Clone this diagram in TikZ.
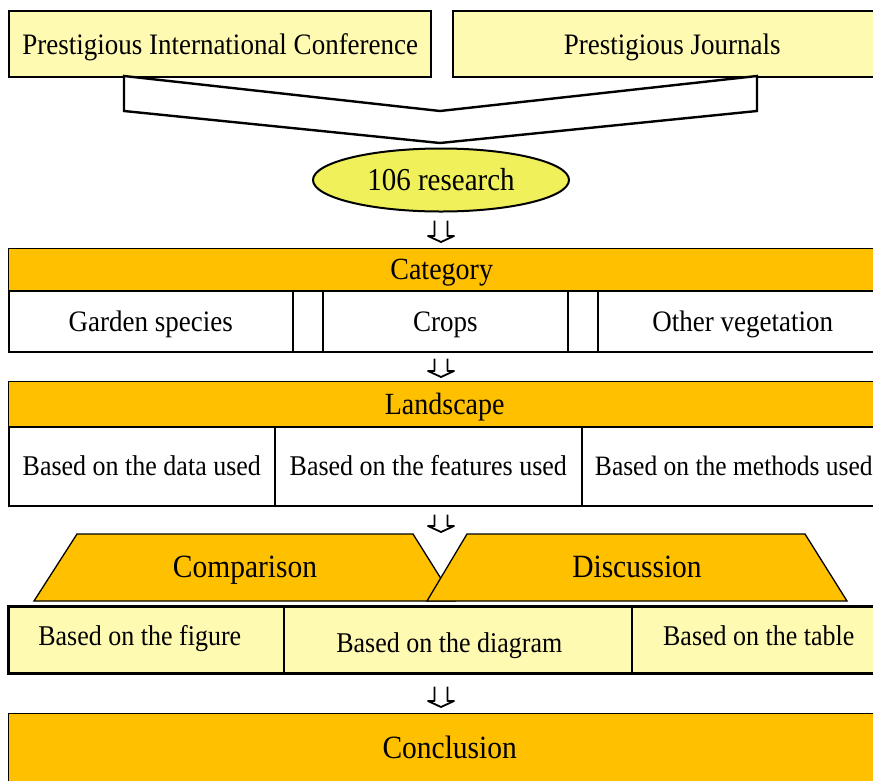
\documentclass[tikz,border=0pt]{standalone}
\usepackage{graphicx}
\usepackage{fontspec}
\setmainfont{Liberation Serif}
\usetikzlibrary{calc,shapes.geometric}
\definecolor{barorange}{RGB}{255,192,0}
\definecolor{paleyellow}{RGB}{255,250,178}
\definecolor{lemon}{RGB}{240,240,90}
% slightly tall lettering
\newcommand{\tl}[1]{\scalebox{1}[1.1]{#1}}
\tikzset{
  every node/.style={font=\fontsize{27}{31}\selectfont, inner sep=0pt, text height=19.6pt, text depth=0pt},
  smalltext/.style={font=\fontsize{26}{30}\selectfont, text height=18.9pt},
  headtext/.style={font=\fontsize{28}{32}\selectfont, text height=20.4pt},
  bigtext/.style={font=\fontsize{29.5}{33}\selectfont, text height=21.5pt},
  srcbox/.style={draw=black, line width=2.4pt, fill=paleyellow, anchor=north west},
  bar/.style={draw=black, line width=1.4pt, fill=barorange, anchor=north west},
  cell/.style={draw=black, line width=1.6pt, fill=white, anchor=north west},
  palecell/.style={draw=black, line width=1.6pt, fill=paleyellow, anchor=north west, smalltext},
  funnel/.style={draw=black, line width=2.4pt, fill=white, line join=miter},
  trap/.style={draw=black, line width=1.3pt, fill=barorange, line join=miter},
  hollow/.style={draw=black, line width=1.8pt, fill=white, line join=round},
}
% narrow hollow block arrow pointing down, from point #1 to point #2, on the axis x=441
\newcommand{\hollowdown}[4]{%
  \draw[hollow] let \p1=(#2), \p2=(#1), \p3=(axis) in
    (\x3-6.5pt,\y2-#3) -- (\x3-6.5pt,\y1+#4+6pt) -- (\x3-13pt,\y1+#4+6pt) --
    (\x3,\y1+#4) -- (\x3+13pt,\y1+#4+6pt) -- (\x3+6.5pt,\y1+#4+6pt) --
    (\x3+6.5pt,\y2-#3);
}
\begin{document}
\begin{tikzpicture}[x=1pt,y=-1pt]
\clip (0,0) rectangle (873,780);
\fill[white] (0,0) rectangle (873,780);
\coordinate (axis) at (441,0);

% sources
\node[srcbox, minimum width=422, minimum height=66] (conf) at (8,10) {\tl{Prestigious International Conference}};
\node[srcbox, minimum width=438, minimum height=66] (jour) at (452,10) {\tl{Prestigious Journals}};

% merging funnel
\coordinate (fl) at (124,76);
\coordinate (fr) at (757,76);
\coordinate (vin) at (440,111);
\coordinate (vout) at (440,143);
\draw[funnel] (fl) -- (vin) -- (fr) -- ($(fr)+(0,35)$) -- (vout) -- ($(fl)+(0,35)$) -- cycle;

% pooled studies
\node[ellipse, draw=black, line width=2pt, fill=lemon, minimum width=256, minimum height=63,
      font=\fontsize{29}{33}\selectfont, text height=21pt] (res) at (441,180) {\tl{106 research}};

% category
\node[bar, headtext, minimum width=866, minimum height=42] (cat) at (8,248) {\tl{Category}};
\node[cell, minimum width=284, minimum height=61] (garden) at (8,290) {\tl{Garden species}};
\node[cell, minimum width=30, minimum height=61] (gapa) at (292,290) {};
\node[cell, minimum width=245, minimum height=61] (crops) at (322,290) {\tl{Crops}};
\node[cell, minimum width=30, minimum height=61] (gapb) at (567,290) {};
\node[cell, minimum width=290, minimum height=61] (other) at (597,290) {\tl{Other vegetation}};

% landscape
\node[bar, headtext, minimum width=872, minimum height=45] (land) at (8,381) {\tl{Landscape}};
\node[cell, smalltext, minimum width=266, minimum height=79] (data) at (8,426) {\tl{Based on the data used}};
\node[cell, smalltext, minimum width=307, minimum height=79] (feat) at (274,426) {\tl{Based on the features used}};
\node[cell, minimum width=304, minimum height=79, font=\fontsize{25.5}{30}\selectfont, text height=18.6pt] (meth) at (581,426) {\tl{Based on the methods used}};

% comparison and discussion
\coordinate (vgap) at (441,533);
\draw[trap] (34,601) -- (77,534) -- (413,534) -- (455,601) -- cycle;
\draw[trap] (427,601) -- (467,534) -- (805,534) -- (847,601) -- cycle;
\node[bigtext] (comp) at (245,567) {\tl{Comparison}};
\node[bigtext] (disc) at (637,567) {\tl{Discussion}};

% presentation forms
\node[palecell, minimum width=275, minimum height=66] (fig) at (8,606) {\raisebox{4pt}{\tl{Based on the figure}}\kern13pt};
\node[palecell, minimum width=348, minimum height=66] (diag) at (283,606) {\raisebox{-3pt}{\tl{Based on the diagram}}\kern17pt};
\node[palecell, minimum width=254, minimum height=66] (tab) at (631,606) {\raisebox{4pt}{\tl{Based on the table}}};
\draw[line width=2.6pt] (fig.north west) rectangle (tab.south east);

% conclusion
\node[bar, bigtext, minimum width=882, minimum height=68] (concl) at (8,713) {\tl{Conclusion}};

% flow arrows
\hollowdown{res.south}{cat.north}{8pt}{6pt}
\hollowdown{crops.south}{land.north}{6pt}{4pt}
\hollowdown{feat.south}{vgap}{8pt}{1pt}
\hollowdown{diag.south}{concl.north}{13pt}{6pt}
\end{tikzpicture}
\end{document}
